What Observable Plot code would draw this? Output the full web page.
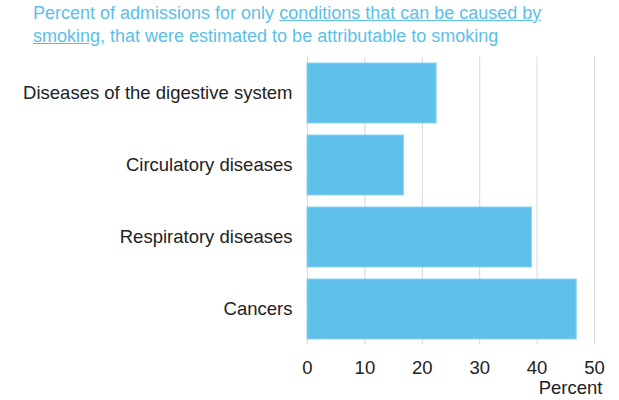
<!DOCTYPE html>
<html>
<head>
<meta charset="utf-8">
<script src="https://cdn.jsdelivr.net/npm/d3@7"></script>
<script src="https://cdn.jsdelivr.net/npm/@observablehq/plot@0.6"></script>
<style>
  body { margin: 0; background: #fff; font-family: "Liberation Sans", Arial, sans-serif; }
  #title { color: #5bbfe9; font-size: 18px; line-height: 23px; padding: 2px 0 0 33px; height: 50px; box-sizing: border-box; width: 600px; }
  #title u { text-decoration-color: #5bbfe9; }
  #chart svg { display: block; }
</style>
</head>
<body>
<div id="title">Percent of admissions for only <u>conditions that can be caused by</u> <u>smoking,</u> that were estimated to be attributable to smoking</div>
<div id="chart"></div>
<script>
const categories = ["Diseases of the digestive system", "Circulatory diseases", "Respiratory diseases", "Cancers"];
const values = [22.5, 16.8, 39.1, 46.9];
const xTicks = [0, 10, 20, 30, 40, 50];
const xLabel = [{x: 50, text: "Percent"}];

const data = categories.map((c, i) => ({category: c, value: values[i]}));

const chart = Plot.plot({
  width: 619,
  height: 350,
  marginTop: 6.5,
  marginBottom: 55.5,
  marginLeft: 307,
  marginRight: 25,
  style: {fontFamily: "Liberation Sans, Arial, sans-serif", fontSize: "18.5px", color: "#222"},
  x: {domain: [0, 50], ticks: xTicks, label: null},
  y: {domain: categories, padding: 0, label: null},
  marks: [
    Plot.gridX(xTicks, {stroke: "#d9d9d9", strokeOpacity: 1, strokeWidth: 1}),
    Plot.barX(data, {x: "value", y: "category", fill: "#5fc1ea", stroke: "#8ed2f0", strokeWidth: 1, insetTop: 6, insetBottom: 6}),
    Plot.axisX(xTicks, {tickSize: 0, tickPadding: 16, label: null, fontSize: 18.5, fill: "#222"}),
    Plot.text(xLabel, {x: "x", text: "text", frameAnchor: "bottom", textAnchor: "end", dx: 8, dy: 48.5, fontSize: 18.5, fill: "#222"}),
    Plot.axisY({tickSize: 0, tickPadding: 15, label: null, fontSize: 18.5, fill: "#222"})
  ]
});
document.getElementById("chart").appendChild(chart);
</script>
</body>
</html>
